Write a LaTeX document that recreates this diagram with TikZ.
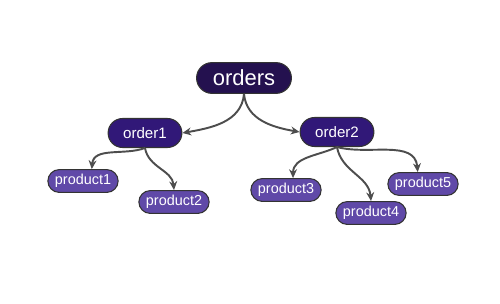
\documentclass[tikz,border=0pt]{standalone}
\usepackage{fontspec}
\setmainfont{Liberation Sans}
\usepackage{xcolor}
\usetikzlibrary{shapes.misc,arrows.meta}
\definecolor{rootfill}{HTML}{24114F}
\definecolor{orderfill}{HTML}{311878}
\definecolor{prodfill}{HTML}{6049A8}
\definecolor{edgegray}{HTML}{4D4D4D}
\begin{document}
\begin{tikzpicture}[x=0.02cm, y=-0.02cm,
  every node/.style={rounded rectangle,draw=black!80,line width=0.6pt,text=white,inner sep=1pt},
  rootbox/.style={fill=rootfill,font=\fontsize{12.5}{14}\selectfont,minimum width=56pt,minimum height=17.5pt},
  orderbox/.style={fill=orderfill,font=\fontsize{8.6}{10}\selectfont,minimum width=44pt,minimum height=16.5pt},
  prodbox/.style={fill=prodfill,font=\fontsize{8.2}{10}\selectfont,minimum width=42pt,minimum height=13pt},
  link/.style={draw=edgegray,line width=1.1pt,-{Stealth[length=5pt,width=4.5pt]}}]
\useasboundingbox (0,0) rectangle (500,304);
\node[rootbox] (orders) at (244,78) {orders};
\node[orderbox] (order1) at (145,133) {order1};
\node[orderbox] (order2) at (337,132) {order2};
\node[prodbox] (product1) at (83,181) {product1};
\node[prodbox] (product2) at (174,202) {product2};
\node[prodbox] (product3) at (286,190) {product3};
\node[prodbox] (product4) at (371,213) {product4};
\node[prodbox] (product5) at (423,184) {product5};
% edges
\draw[link] (orders.south) to[out=-95,in=10] (order1.east);
\draw[link] (orders.south) to[out=-85,in=170] (order2.west);
\draw[link] (order1.south) to[out=-160,in=85] ([xshift=5]product1.north);
\draw[link] (order1.south) to[out=-80,in=95] (product2.north);
\draw[link] (order2.south) to[out=-155,in=90] ([xshift=4]product3.north);
\draw[link] (order2.south) to[out=-80,in=95] (product4.north);
\draw[link] (order2.south) to[out=-15,in=95] ([xshift=-3]product5.north);
\end{tikzpicture}
\end{document}
